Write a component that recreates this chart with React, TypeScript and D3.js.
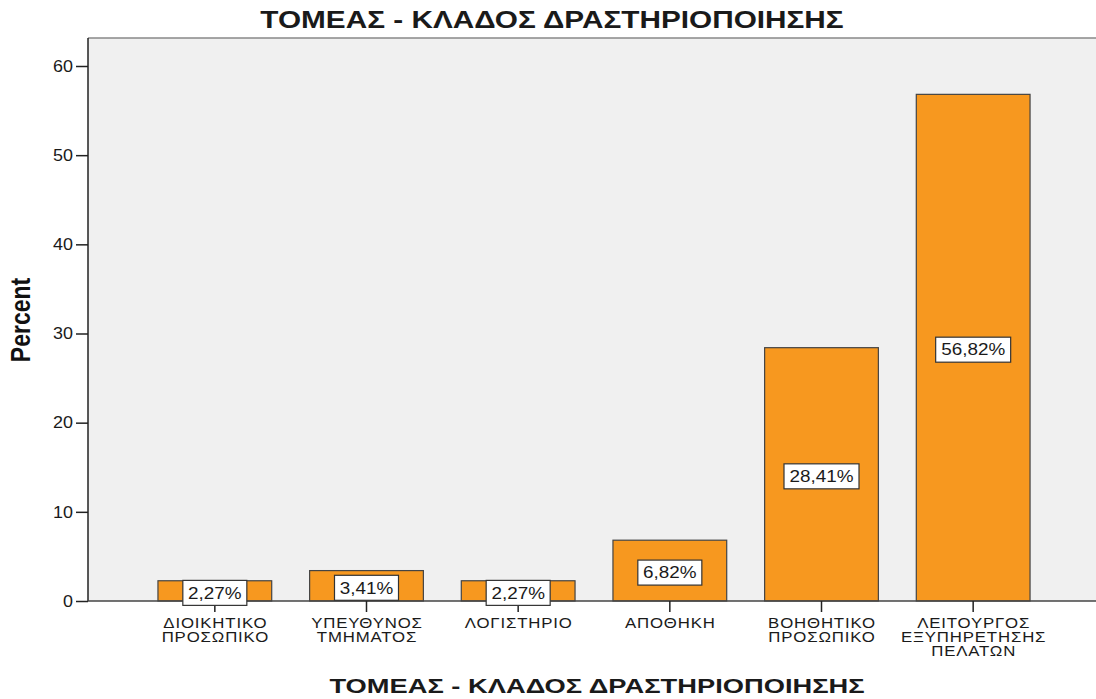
import React, { useRef, useEffect } from 'react';
import * as d3 from 'd3';

const categories = [
  ['ΔΙΟΙΚΗΤΙΚΟ', 'ΠΡΟΣΩΠΙΚΟ'],
  ['ΥΠΕΥΘΥΝΟΣ', 'ΤΜΗΜΑΤΟΣ'],
  ['ΛΟΓΙΣΤΗΡΙΟ'],
  ['ΑΠΟΘΗΚΗ'],
  ['ΒΟΗΘΗΤΙΚΟ', 'ΠΡΟΣΩΠΙΚΟ'],
  ['ΛΕΙΤΟΥΡΓΟΣ', 'ΕΞΥΠΗΡΕΤΗΣΗΣ', 'ΠΕΛΑΤΩΝ'],
];
const percents = [2.27, 3.41, 2.27, 6.82, 28.41, 56.82];
const yTicks = [0, 10, 20, 30, 40, 50, 60];
const title = 'ΤΟΜΕΑΣ - ΚΛΑΔΟΣ ΔΡΑΣΤΗΡΙΟΠΟΙΗΣΗΣ';

const font = 'Liberation Sans, Arial, sans-serif';

// the source picture is a little stretched sideways, so text is scaled in x
const addText = (
  g: any,
  x: number,
  y: number,
  str: string,
  opt: { size: number; sx?: number; weight?: string; anchor?: string; ls?: number; dy?: string }
) =>
  g
    .append('text')
    .attr('transform', `translate(${x},${y}) scale(${opt.sx ?? 1.2},1)`)
    .attr('text-anchor', opt.anchor ?? 'middle')
    .attr('dy', opt.dy ?? null)
    .attr('font-family', font)
    .attr('font-size', opt.size)
    .attr('font-weight', opt.weight ?? 'normal')
    .attr('letter-spacing', opt.ls ?? 0)
    .attr('fill', '#1a1a1a')
    .text(str);

const App = () => {
  const svgRef = useRef<SVGSVGElement>(null);

  useEffect(() => {
    const svg = d3.select(svgRef.current);
    svg.selectAll('*').remove();

    const width = 1096;
    const height = 699;
    const plot = { left: 88, top: 38, right: 1096, bottom: 601 };

    const keys = categories.map((c) => c.join(' '));
    const x = d3
      .scaleBand()
      .domain(keys)
      .range([139, 1049])
      .paddingInner(0.25)
      .paddingOuter(0.125);
    const y = d3.scaleLinear().domain([0, 60]).range([plot.bottom, 66]);

    svg.attr('width', width).attr('height', height);

    // plot background
    svg
      .append('rect')
      .attr('x', plot.left)
      .attr('y', plot.top)
      .attr('width', plot.right - plot.left)
      .attr('height', plot.bottom - plot.top)
      .attr('fill', '#f0f0f0');
    svg
      .append('line')
      .attr('x1', plot.left)
      .attr('x2', plot.right)
      .attr('y1', plot.top)
      .attr('y2', plot.top)
      .attr('stroke', '#888')
      .attr('stroke-width', 1.5);

    const data = keys.map((k, i) => ({ key: k, lines: categories[i], value: percents[i] }));

    // bars
    svg
      .append('g')
      .selectAll('rect')
      .data(data)
      .join('rect')
      .attr('x', (d) => x(d.key)!)
      .attr('y', (d) => y(d.value))
      .attr('width', x.bandwidth())
      .attr('height', (d) => y(0) - y(d.value))
      .attr('fill', '#f7981f')
      .attr('stroke', '#444')
      .attr('stroke-width', 1.2);

    // y axis
    const yAxis = svg
      .append('g')
      .attr('transform', `translate(${plot.left},0)`)
      .call(d3.axisLeft(y).tickValues(yTicks).tickSize(12).tickFormat(() => ''));
    yAxis.select('.domain').attr('d', `M0,${plot.top}V${plot.bottom}`).attr('stroke', '#222').attr('stroke-width', 1.5);
    yAxis.selectAll('.tick line').attr('stroke', '#222').attr('stroke-width', 1.5);
    const yLab = svg.append('g');
    yTicks.forEach((t) => addText(yLab, 73, y(t), String(t), { size: 16, sx: 1.12, anchor: 'end', dy: '0.36em' }));

    // x axis
    const xAxis = svg
      .append('g')
      .attr('transform', `translate(0,${plot.bottom})`)
      .call(d3.axisBottom(x).tickSize(11).tickFormat(() => ''));
    xAxis.select('.domain').attr('d', `M${plot.left},0H${plot.right}`).attr('stroke', '#444').attr('stroke-width', 1.5);
    xAxis.selectAll('.tick line').attr('stroke', '#222').attr('stroke-width', 1.5);

    // category labels
    const catG = svg.append('g');
    data.forEach((d) => {
      const cx = x(d.key)! + x.bandwidth() / 2;
      d.lines.forEach((l, j) => addText(catG, cx + 0.5, 628 + j * 14, l, { size: 14, sx: 1.2, ls: 0.7 }));
    });

    // value labels
    const lab = svg
      .append('g')
      .selectAll('g')
      .data(data)
      .join('g')
      .attr('transform', (d) => `translate(${x(d.key)! + x.bandwidth() / 2},${y(d.value / 2) + 2})`);
    lab.each(function (d) {
      const g = d3.select(this);
      const txt = d.value.toFixed(2).replace('.', ',') + '%';
      const w = txt.length === 5 ? 64 : 75;
      g.append('rect')
        .attr('x', -w / 2)
        .attr('y', -12.5)
        .attr('width', w)
        .attr('height', 25)
        .attr('fill', '#fff')
        .attr('stroke', '#333')
        .attr('stroke-width', 1.2);
      addText(g, 0, 0, txt, { size: 16, sx: 1.18, dy: '0.36em' });
    });

    // titles
    addText(svg, 552, 28, title, { size: 24, sx: 1.24, weight: 'bold' });
    addText(svg, 597, 693, title, { size: 21, sx: 1.3, weight: 'bold' });
    svg
      .append('text')
      .attr('transform', 'translate(30,320) rotate(-90) scale(1,1.22)')
      .attr('text-anchor', 'middle')
      .attr('font-family', font)
      .attr('font-weight', 'bold')
      .attr('font-size', 23)
      .attr('fill', '#111')
      .text('Percent');
  }, []);

  return <svg ref={svgRef} style={{ position: 'absolute', left: 0, top: 0 }} />;
};

export default App;
